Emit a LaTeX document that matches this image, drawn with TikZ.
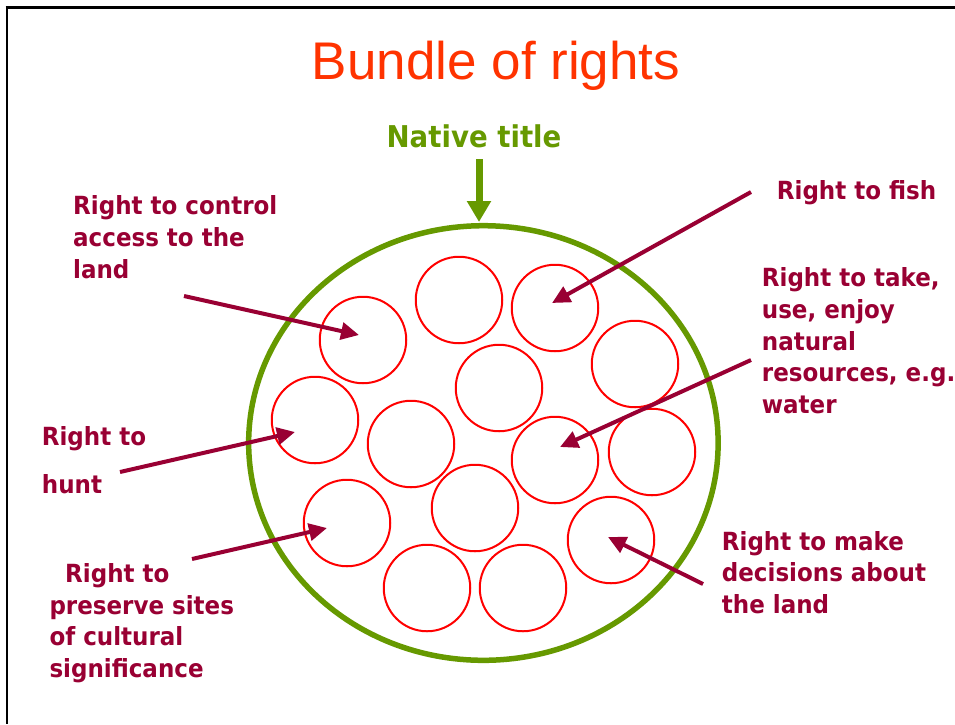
\documentclass[tikz,border=0pt]{standalone}
\usepackage{fontspec}
\setmainfont{Liberation Sans}
\newfontfamily\lblfont{DejaVu Sans}[FakeStretch=0.92]
\usetikzlibrary{arrows.meta,shapes.geometric}
\definecolor{titleorange}{RGB}{255,51,0}
\definecolor{nativegreen}{RGB}{102,153,0}
\definecolor{rightred}{RGB}{153,0,51}
\definecolor{strandred}{RGB}{255,0,0}

\begin{document}
\begin{tikzpicture}[x=1pt,y=-1pt,
  strand/.style={circle,draw=strandred,line width=2pt,minimum size=86.5pt,inner sep=0pt},
  % multi-line labels: base anchor sits on the last line's baseline
  rightlbl/.style={text=rightred,font=\lblfont\bfseries\fontsize{25}{31.6}\selectfont,
    align=left,inner sep=0pt,anchor=base west},
  pointer/.style={draw=rightred,line width=4pt,-{Triangle[length=18pt,width=17pt]}},
]
\useasboundingbox (0,0) rectangle (955,724);

% slide frame (top and left edges)
\draw[line width=3pt] (5.5,7.5) -- (955,7.5);
\draw[line width=2pt] (7,6) -- (7,724);

% heading
\node[text=titleorange,font=\fontsize{53}{60}\selectfont,anchor=base,inner sep=0pt]
  (heading) at (496,79) {Bundle of rights};

% the bundle
\node[ellipse,draw=nativegreen,line width=5.5pt,minimum width=469.5pt,
  minimum height=434.6pt,inner sep=0pt] (bundle) at (483.4,443) {};

\node[text=nativegreen,font=\lblfont\bfseries\fontsize{30}{36}\selectfont,
  anchor=base,inner sep=0pt] (native) at (474,147.3) {Native title};
\coordinate (ntTail) at (479,159);
\coordinate (ntTip) at (479,222);
\draw[draw=nativegreen,line width=7pt,-{Triangle[length=21pt,width=23pt]}] (ntTail) -- (ntTip);

% the strands
\node[strand] (c1)  at (363,340) {};
\node[strand] (c2)  at (459,300) {};
\node[strand] (c3)  at (555,308) {};
\node[strand] (c4)  at (635,364) {};
\node[strand] (c5)  at (499,388) {};
\node[strand] (c6)  at (315,420) {};
\node[strand] (c7)  at (411,444) {};
\node[strand] (c8)  at (555,460) {};
\node[strand] (c9)  at (652,452) {};
\node[strand] (c10) at (347,523) {};
\node[strand] (c11) at (475,508) {};
\node[strand] (c12) at (611,540) {};
\node[strand] (c13) at (427,588) {};
\node[strand] (c14) at (523,588) {};

% rights
\node[rightlbl] (access) at (73,278) {Right to control\\access to the\\land};
\node[rightlbl] (hunt) at (41.7,493) {Right to\\[15.5pt]hunt};
\node[rightlbl] (sites) at (49.3,677.3) {\hspace*{15.7pt}Right to\\preserve sites\\of cultural\\significance};
\node[rightlbl] (fish) at (776.7,199.3) {Right to fish};
\node[rightlbl] (take) at (761.7,413.3) {Right to take,\\use, enjoy\\natural\\resources, e.g.\\water};
\node[rightlbl] (decide) at (721.7,613.3) {Right to make\\decisions about\\the land};

% pointers into the strands
\coordinate (accessTail) at (184,296);
\coordinate (huntTail) at (120,472);
\coordinate (sitesTail) at (192,559);
\coordinate (fishTail) at (751,192);
\coordinate (takeTail) at (751,360);
\coordinate (decideTail) at (703,584);

\draw[pointer] (accessTail) -- ([shift={(-4,-5)}]c1.center);
\draw[pointer] (huntTail) -- ([shift={(-20,12)}]c6.center);
\draw[pointer] (sitesTail) -- ([shift={(-20,5)}]c10.center);
\draw[pointer] (fishTail) -- ([shift={(-3,-5)}]c3.center);
\draw[pointer] (takeTail) -- ([shift={(5,-13)}]c8.center);
\draw[pointer] (decideTail) -- ([shift={(-3,-3)}]c12.center);
\end{tikzpicture}
\end{document}
